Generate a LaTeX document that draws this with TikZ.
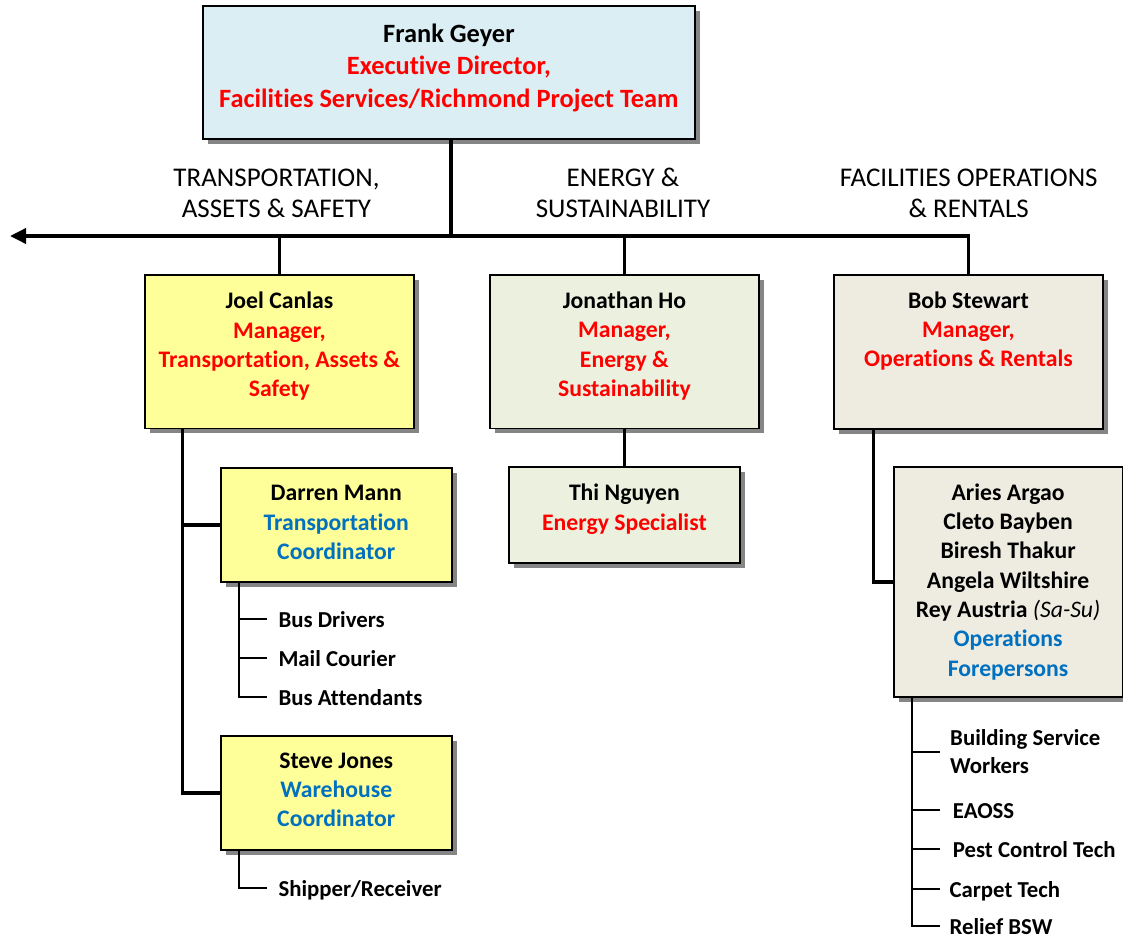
\documentclass[tikz,border=0pt]{standalone}
\usepackage{fontspec}
\setmainfont{Carlito}[Ligatures={CommonOff}]
\usetikzlibrary{shadows,arrows.meta}
\definecolor{topfill}{HTML}{DAEEF3}
\definecolor{yel}{HTML}{FFFF99}
\definecolor{grn}{HTML}{EBF1DE}
\definecolor{tanfill}{HTML}{EEECE1}
\definecolor{redt}{HTML}{FF0000}
\definecolor{bluet}{HTML}{0070C0}
\definecolor{shad}{HTML}{858585}
\newcommand{\boxtext}[4]{\parbox[c][#2][t]{#1}{\centering\rule{0pt}{#3}#4}}
\tikzset{
  orgbox/.style={draw=black, line width=1.8pt, inner sep=0pt, anchor=north west,
    drop shadow={shadow xshift=5pt, shadow yshift=-5pt, fill=shad, opacity=1},
    font=\bfseries\fontsize{23.7}{29.3}\selectfont},
  topbox/.style={orgbox, fill=topfill, font=\bfseries\fontsize{26.4}{32.3}\selectfont},
  conn/.style={line width=3.5pt, draw=black},
  subconn/.style={line width=2pt, draw=black},
  header/.style={anchor=base, inner sep=0pt, font=\fontsize{27}{31}\selectfont},
  sublabel/.style={anchor=west, inner xsep=10pt, inner ysep=0pt, text height=17pt, text depth=0pt,
    font=\bfseries\fontsize{22.8}{28}\selectfont},
}
\begin{document}
\begin{tikzpicture}[x=1pt,y=-1pt]
\useasboundingbox (0,0) rectangle (1123,938);
\fill[white] (0,0) rectangle (1123,938);

% boxes
\node[topbox] (top) at (202,5) {\boxtext{492pt}{133pt}{36.7pt}{Frank Geyer\\ {\color{redt}Executive Director,\\ Facilities Services/Richmond Project Team}}};
\node[orgbox, fill=yel] (joel) at (144,274) {\boxtext{269pt}{153.5pt}{34pt}{Joel Canlas\\ {\color{redt}Manager,\\ Transportation, Assets \&\\ Safety}}};
\node[orgbox, fill=grn] (jon) at (489,274) {\boxtext{269pt}{153.5pt}{33.7pt}{Jonathan Ho\\ {\color{redt}Manager,\\ Energy \&\\ Sustainability}}};
\node[orgbox, fill=tanfill] (bob) at (833,274) {\boxtext{269pt}{154pt}{33.3pt}{Bob Stewart\\ {\color{redt}Manager,\\ Operations \& Rentals}}};
\node[orgbox, fill=yel] (darren) at (220,466.7) {\boxtext{230.7pt}{114.3pt}{33.3pt}{Darren Mann\\ {\color{bluet}Transportation\\ Coordinator}}};
\node[orgbox, fill=grn] (thi) at (508,466) {\boxtext{231pt}{96pt}{34pt}{Thi Nguyen\\ {\color{redt}Energy Specialist}}};
\node[orgbox, fill=tanfill] (fore) at (892.7,466) {\boxtext{229pt}{230pt}{33.3pt}{Aries Argao\\ Cleto Bayben\\ Biresh Thakur\\ Angela Wiltshire\\ Rey Austria {\mdseries\itshape (Sa-Su)}\\ {\color{bluet}Operations\\ Forepersons}}};
\node[orgbox, fill=yel] (steve) at (220,735) {\boxtext{230.7pt}{114.3pt}{32.3pt}{Steve Jones\\ {\color{bluet}Warehouse\\ Coordinator}}};

% headers
\node[header] (h1) at (276.5,186) {\parbox[t]{300pt}{\centering TRANSPORTATION,\\ ASSETS \& SAFETY}};
\node[header] (h2) at (623,186) {\parbox[t]{300pt}{\centering ENERGY \&\\ SUSTAINABILITY}};
\node[header] (h3) at (968.7,186) {\parbox[t]{300pt}{\centering FACILITIES OPERATIONS\\ \& RENTALS}};

% main connectors
\coordinate (bus) at (451,236);
\coordinate (tip) at (10,236);
\draw[conn] (top.south -| bus) -- (bus);
\draw[conn, -{Triangle[length=16pt,width=15pt]}] (bob.north) |- (tip);
\draw[conn] (joel.north) -- (joel.north |- bus);
\draw[conn] (jon.north) -- (jon.north |- bus);

\coordinate (jx) at (182.7,0);
\draw[conn] (joel.south -| jx) |- (steve.west);
\draw[conn] (jx |- darren.west) -- (darren.west);
\draw[conn] (jon.south) -- (thi.north);
\coordinate (bx) at (873.3,0);
\draw[conn] (bob.south -| bx) |- (fore.west);

% sub labels under Darren and Steve
\node[sublabel, inner xsep=11pt] (busdr) at (267.3,619.3) {Bus Drivers};
\node[sublabel, inner xsep=11pt] (mail) at (267.3,658.3) {Mail Courier};
\node[sublabel, inner xsep=11pt] (busat) at (267.3,696.7) {Bus Attendants};
\node[sublabel, inner xsep=11pt] (ship) at (267.3,888.3) {Shipper/Receiver};
\coordinate (dx) at (239.3,0);
\draw[subconn] (darren.south -| dx) |- (busat.west);
\draw[subconn] (dx |- busdr.west) -- (busdr.west);
\draw[subconn] (dx |- mail.west) -- (mail.west);
\draw[subconn] (steve.south -| dx) |- (ship.west);

% sub labels under forepersons
\node[anchor=west, inner xsep=10pt, inner ysep=0pt, align=left, font=\bfseries\fontsize{22.8}{28}\selectfont] (bsw) at (940,751.7) {Building Service\\Workers};
\node[sublabel, inner xsep=12.7pt] (eaoss) at (940,810) {EAOSS};
\node[sublabel, inner xsep=12.7pt] (pest) at (940,849.3) {Pest Control Tech};
\node[sublabel, inner xsep=9.3pt] (carpet) at (940,889.3) {Carpet Tech};
\node[sublabel, inner xsep=9.3pt] (relief) at (940,925.7) {Relief BSW};
\coordinate (fx) at (911.7,0);
\draw[subconn] (fore.south -| fx) |- (relief.west);
\draw[subconn] (fx |- bsw.west) -- (bsw.west);
\draw[subconn] (fx |- eaoss.west) -- (eaoss.west);
\draw[subconn] (fx |- pest.west) -- (pest.west);
\draw[subconn] (fx |- carpet.west) -- (carpet.west);
\end{tikzpicture}
\end{document}
